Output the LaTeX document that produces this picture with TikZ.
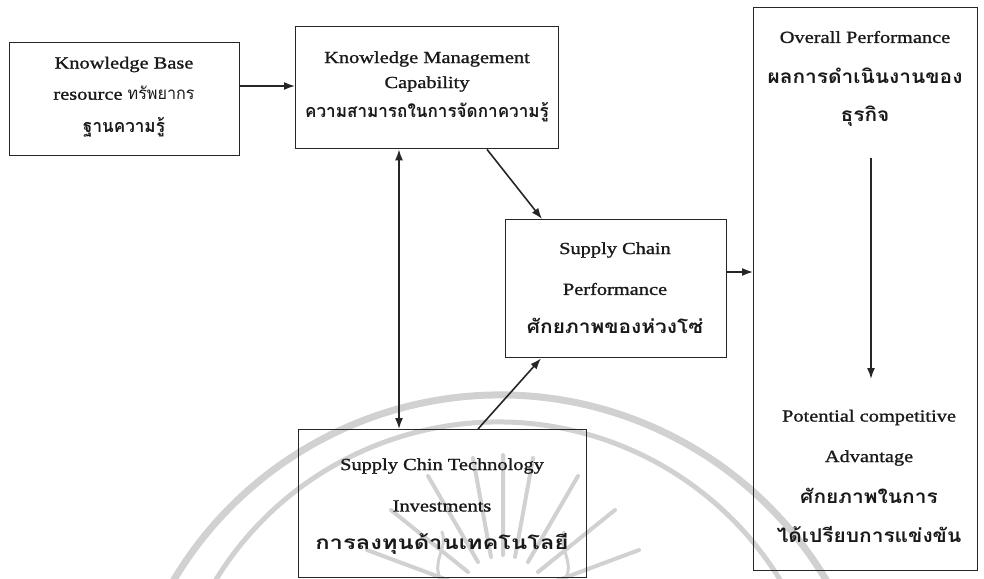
\documentclass[tikz,border=0pt]{standalone}
\usepackage{fontspec}
\setmainfont[FakeStretch=1.2,FakeBold=1.2]{Liberation Serif}
\newfontfamily\thaifont[Script=Thai,FakeStretch=1.1]{Loma}
\newfontfamily\thainarrow[Script=Thai,FakeStretch=0.95]{Loma}
\newfontfamily\thaiwide[Script=Thai,FakeStretch=1.25]{Loma}
\usetikzlibrary{arrows.meta}

\begin{document}
\begin{tikzpicture}[x=1pt,y=-1pt,
  box/.style={draw=black!85, line width=1.4pt, inner sep=0pt, anchor=north west},
  en/.style={font=\fontsize{17}{20}\selectfont, inner sep=0pt, text=black!90},
  th/.style={font=\thaifont\bfseries\fontsize{19}{22}\selectfont, inner sep=0pt, text=black!90},
  thn/.style={th, font=\thainarrow\bfseries\fontsize{18}{21}\selectfont},
  thw/.style={th, font=\thaiwide\bfseries\fontsize{19}{22}\selectfont},
  link/.style={draw=black!85, line width=1.6pt, >={Latex[length=11pt,width=8pt]}, ->},
  seal/.style={draw=black!18, line cap=round},
]
\useasboundingbox (0,0) rectangle (984,578);

% faint seal in the background: two rings and the sun rays
\begin{scope}
  \clip (0,0) rectangle (984,578);
  \draw[seal, line width=7pt] (500,775) ++(205:380) arc[start angle=205, end angle=335, radius=380];
  \draw[seal, line width=5pt] (498,753) ++(205:331) arc[start angle=205, end angle=335, radius=331];
  \coordinate (sun) at (503,600);
  \draw[seal, line width=4pt]
    (461,585) -- (367,550)
    (468,572) -- (391,510)
    (478,562) -- (428,476)
    (491,557) -- (473,458)
    (503,555) -- (503,455)
    (515,557) -- (533,458)
    (528,562) -- (578,476)
    (538,572) -- (615,510)
    (545,585) -- (639,550);
  \draw[seal, line width=3pt]
    (440,578) .. controls (432,560) and (448,548) .. (442,532)
    (566,578) .. controls (574,560) and (558,548) .. (564,532);
\end{scope}

% boxes
\node[box, minimum width=230pt, minimum height=113pt] (kb) at (9,42) {};
\node[box, minimum width=263pt, minimum height=122pt] (km) at (295,26) {};
\node[box, minimum width=221pt, minimum height=138pt] (scp) at (505,219) {};
\node[box, minimum width=288pt, minimum height=148pt] (tech) at (298,429) {};
\node[box, minimum width=224pt, minimum height=563pt] (ov) at (753,7) {};

% box texts
\node[en] (kb1) at (124,64.5) {Knowledge Base};
\node[en] (kb2) at (124,93) {resource {\thainarrow ทรัพยากร}};
\node[thn] (kb3) at (124,127) {ฐานความรู้};

\node[en] (km1) at (427,59) {Knowledge Management};
\node[en] (km2) at (427,84) {Capability};
\node[thn] (km3) at (427,112) {ความสามารถในการจัดกาความรู้};

\node[en] (scp1) at (615,250) {Supply Chain};
\node[en] (scp2) at (615,289) {Performance};
\node[th] (scp3) at (615,326) {ศักยภาพของห่วงโซ่};

\node[en] (te1) at (442,466) {Supply Chin Technology};
\node[en] (te2) at (442,506) {Investments};
\node[thw] (te3) at (442,544) {การลงทุนด้านเทคโนโลยี};

\node[en] (ov1) at (865,37) {Overall Performance};
\node[th] (ov2) at (865,75.5) {ผลการดำเนินงานของ};
\node[th] (ov3) at (865,116) {ธุรกิจ};

\node[en] (pc1) at (869,417.5) {Potential competitive};
\node[en] (pc2) at (869,458) {Advantage};
\node[th] (pc3) at (869,496) {ศักยภาพในการ};
\node[th] (pc4) at (869,534) {ได้เปรียบการแข่งขัน};

% connectors
\coordinate (ovtop) at (871,158);
\coordinate (ovbot) at (871,379);
\draw[link] (kb.east |- 0,86) -- (km.west |- 0,86);
\draw[link, <->] (km.south -| 399,0) -- (tech.north -| 399,0);
\draw[link] (km.south -| 487,0) -- (scp.north -| 542,0);
\draw[link] (tech.north -| 478,0) -- (scp.south -| 541,0);
\draw[link] (scp.east |- 0,272) -- (ov.west |- 0,272);
\draw[link] (ovtop) -- (ovbot);
\end{tikzpicture}
\end{document}
